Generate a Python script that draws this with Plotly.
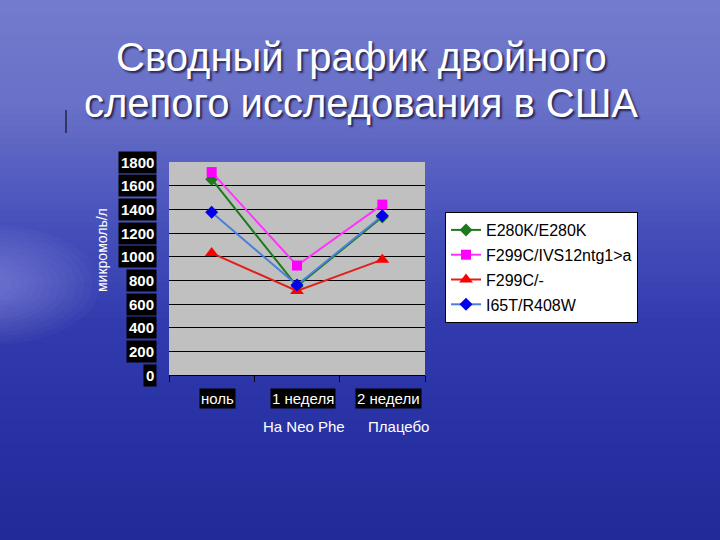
import plotly.graph_objects as go

categories = ["ноль", "1 неделя", "2 недели"]
series_names = ["E280K/E280K", "F299C/IVS12ntg1>a", "F299C/-", "I65T/R408W"]
e280k = [1655, 750, 1335]
f299c_ivs = [1715, 925, 1440]
f299c = [1030, 710, 975]
i65t = [1375, 760, 1345]
y_ticks = [0, 200, 400, 600, 800, 1000, 1200, 1400, 1600, 1800]
title_lines = ["Сводный график двойного", "слепого исследования в США"]
y_title = "микромоль/л"
sub_labels = ["На Neo Phe", "Плацебо"]

series = [e280k, f299c_ivs, f299c, i65t]
line_colors = ["#1d7a1d", "#ff33ff", "#e0201c", "#4a80d8"]
marker_colors = ["#1d7a1d", "#ff00ff", "#ff0000", "#0000ee"]
symbols = ["diamond", "square", "triangle-up", "diamond"]

# plot area in pixels
L, R, T, B = 169, 425, 162, 375
PW, PH = R - L, B - T


def px(xp):
    return (xp - L) / PW


def py(yp):
    return (B - yp) / PH


fig = go.Figure()
for i, (name, vals) in enumerate(zip(series_names, series)):
    fig.add_trace(go.Scatter(
        x=categories, y=vals, name=name, mode="lines+markers",
        legendgroup=name,
        line=dict(color=line_colors[i], width=2),
        marker=dict(symbol=symbols[i], size=10 if symbols[i] != "triangle-up" else 12,
                    color=marker_colors[i]),
    ))

# background gradient (pixel rows)
stops = [(0, (116, 124, 206)), (110, (104, 112, 200)), (220, (72, 82, 188)),
         (320, (50, 60, 174)), (430, (40, 50, 164)), (540, (32, 42, 152))]
shapes = []
step = 6
for y0 in range(0, 540, step):
    t = y0 + step / 2
    for j in range(len(stops) - 1):
        if stops[j][0] <= t <= stops[j + 1][0]:
            a, ca = stops[j]
            b, cb = stops[j + 1]
            f = (t - a) / (b - a)
            c = tuple(int(ca[m] + (cb[m] - ca[m]) * f) for m in range(3))
            break
    shapes.append(dict(type="rect", xref="paper", yref="paper", layer="below",
                       x0=px(-5), x1=px(725), y0=py(y0 + step + 0.5), y1=py(y0),
                       fillcolor="rgb(%d,%d,%d)" % c, line=dict(width=0)))
# soft glow on left
for k in range(12):
    shapes.append(dict(type="circle", xref="paper", yref="paper", layer="below",
                       x0=px(-120 + k * 5), x1=px(100 - k * 8),
                       y0=py(345 - k * 4), y1=py(225 + k * 4),
                       fillcolor="rgba(200,205,245,0.035)", line=dict(width=0)))
# grey plot area
shapes.append(dict(type="rect", xref="paper", yref="paper", layer="below",
                   x0=0, x1=1, y0=0, y1=1, fillcolor="#c0c0c0", line=dict(width=0)))
# cursor mark
shapes.append(dict(type="line", xref="paper", yref="paper",
                   x0=px(66), x1=px(66), y0=py(110), y1=py(133),
                   line=dict(color="black", width=1)))

annotations = []
for v in y_ticks:
    annotations.append(dict(
        x=px(157), xref="paper", y=v, yref="y", xanchor="right", yanchor="middle",
        text="<b>%d</b>" % v, showarrow=False, bgcolor="black", borderpad=2,
        font=dict(family="Liberation Sans", size=15, color="white")))
for c in categories:
    annotations.append(dict(
        x=c, xref="x", y=py(398), yref="paper", xanchor="center", yanchor="middle",
        xshift=6, text=c, showarrow=False, bgcolor="black", borderpad=1,
        font=dict(family="Liberation Sans", size=15, color="white")))
annotations.append(dict(
    x=px(304), xref="paper", y=py(426), yref="paper",
    text=sub_labels[0], showarrow=False, xanchor="center", yanchor="middle",
    font=dict(family="Liberation Sans", size=15, color="white")))
annotations.append(dict(
    x=px(398), xref="paper", y=py(426), yref="paper",
    text=sub_labels[1], showarrow=False, xanchor="center", yanchor="middle",
    font=dict(family="Liberation Sans", size=15, color="white")))
annotations.append(dict(
    x=px(102), xref="paper", y=py(250), yref="paper",
    text=y_title, textangle=-90, showarrow=False, xanchor="center", yanchor="middle",
    font=dict(family="Liberation Sans", size=14, color="white")))
for i, line in enumerate(title_lines):
    annotations.append(dict(
        x=px(361), xref="paper", y=py(57 + 46 * i), yref="paper",
        text=line, showarrow=False, xanchor="center", yanchor="middle",
        font=dict(family="Liberation Sans", size=40, color="white",
                  shadow="2px 2px 2px rgba(20,20,60,0.8)")))

fig.update_layout(
    width=720, height=540,
    margin=dict(l=L, r=720 - R, t=T, b=540 - B),
    paper_bgcolor="#3a46b0",
    plot_bgcolor="#c0c0c0",
    shapes=shapes,
    annotations=annotations,
    showlegend=True,
    legend=dict(x=px(445), y=py(212), xanchor="left", yanchor="top",
                bgcolor="white", bordercolor="black", borderwidth=1,
                font=dict(family="Liberation Sans", size=16, color="black"),
                tracegroupgap=1, itemwidth=30),
    xaxis=dict(type="category", range=[-0.5, 2.5], showgrid=False, showticklabels=False,
               tickson="boundaries", ticks="outside", ticklen=6, tickcolor="black",
               showline=True, linecolor="black", linewidth=1, zeroline=False),
    yaxis=dict(range=[0, 1800], tickvals=y_ticks, showticklabels=False,
               showgrid=True, gridcolor="black", gridwidth=1, zeroline=False,
               showline=False),
)

fig.write_html("out.html", config={"displayModeBar": False},
               post_script="document.body.style.margin='0';document.body.style.overflow='hidden';")
